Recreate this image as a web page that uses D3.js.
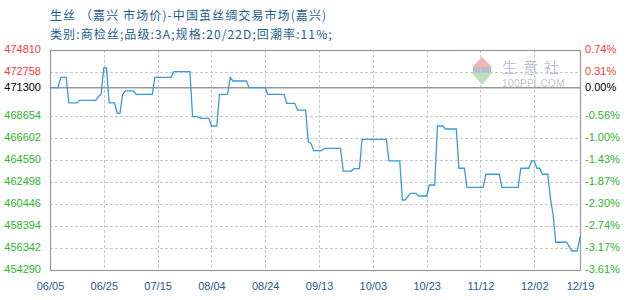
<!DOCTYPE html>
<html><head><meta charset="utf-8">
<script src="https://cdn.jsdelivr.net/npm/d3@7"></script>
<style>
html,body{margin:0;padding:0;background:#fff;}
svg{display:block;}
</style></head>
<body>
<svg id="chart" width="630" height="300"></svg>
<script>
const titleLine1 = "生丝 （嘉兴 市场价)-中国茧丝绸交易市场(嘉兴)";
const titleLine2 = "类别:商检丝;品级:3A;规格:20/22D;回潮率:11%;";
const year = 2023;
const xTickLabels = ["06/05","06/25","07/15","08/04","08/24","09/13","10/03","10/23","11/12","12/02","12/19"];
const yTickValues = [474810,472758,471300,468654,466602,464550,462498,460446,458394,456342,454290];
const pctLabels = ["0.74%","0.31%","0.00%","-0.56%","-1.00%","-1.43%","-1.87%","-2.30%","-2.74%","-3.17%","-3.61%"];
const baseValue = 471300;
const dates = ["06/05","06/08","06/09","06/11","06/12","06/15","06/16","06/22","06/23","06/24","06/25","06/26","06/27","06/29","06/30","07/01","07/02","07/03","07/06","07/07","07/13","07/14","07/20","07/21","07/27","07/28","07/30","07/31","08/03","08/04","08/06","08/07","08/10","08/11","08/12","08/17","08/18","08/24","08/25","08/31","09/01","09/04","09/05","09/08","09/09","09/10","09/11","09/14","09/15","09/21","09/22","09/25","09/26","09/28","09/29","10/08","10/09","10/13","10/14","10/15","10/17","10/19","10/20","10/23","10/24","10/26","10/27","10/29","10/30","11/03","11/04","11/06","11/07","11/13","11/14","11/19","11/20","11/26","11/27","11/30","12/01","12/02","12/03","12/04","12/05","12/07","12/08","12/09","12/10","12/14","12/15","12/16","12/18","12/19"];
const prices = [471300,471300,472260,472260,469870,469870,470120,470120,470470,470680,473130,473130,469870,469870,468906,468906,470680,470990,470990,470680,470680,472260,472260,472790,472790,468590,468590,468440,468440,467720,467720,470680,470680,472260,471920,471920,471300,471300,470680,470680,469840,469840,469210,469210,466260,466100,465420,465420,465640,465640,463520,463520,463740,463740,466480,466480,464460,464460,460820,460820,461440,461440,461190,461190,462220,462220,467720,467720,467440,467440,463780,463780,462000,462000,463220,463220,462000,462000,463780,463780,464460,464460,463780,463780,463220,463220,461000,459420,456880,456880,456470,456060,456060,457400];

const parse = s => { const [m,d] = s.split("/").map(Number); return new Date(year, m-1, d); };
const data = dates.map((d,i)=>({date:parse(d), value:prices[i]}));

const svg = d3.select("#chart");
const L = 50, R = 580, T = 50, B = 270;
const x = d3.scaleTime().domain([parse("06/05"), parse("12/19")]).range([L, R]);
const y = d3.scaleLinear().domain([454290, 474810]).range([B, T]);

const red = "#ff3b3b", green = "#2eb52e", blue = "#1d5d96";
const colorFor = v => v > baseValue ? red : (v < baseValue ? green : "#000");

// titles
svg.append("text").attr("x", 50).attr("y", 20).attr("fill", blue)
  .style("font-family", "'Noto Sans CJK SC'").style("font-size", "12px").style("letter-spacing", "1.1px").text(titleLine1);
svg.append("text").attr("x", 50).attr("y", 39).attr("fill", blue)
  .style("font-family", "'Noto Sans CJK SC'").style("font-size", "12px").style("letter-spacing", "1.1px").text(titleLine2);

// watermark
const wm = svg.append("g").attr("opacity", 0.6);
wm.append("path").attr("d", "M482,57 L492,67 L472,67 Z").attr("fill", "#e88a80");
wm.append("rect").attr("x", 473).attr("y", 67).attr("width", 18).attr("height", 6).attr("fill", "#8a94b0");
wm.append("path").attr("d", "M472,73 L492,73 L482,85 Z").attr("fill", "#8fd08f");
wm.append("text").attr("x", 502).attr("y", 73).attr("fill", "#8f9cc4")
  .style("font-family", "'Noto Sans CJK SC'").style("font-size", "15px").style("letter-spacing", "6px").text("生意社");
wm.append("text").attr("x", 502).attr("y", 87).attr("fill", "#a0a0a0")
  .style("font-family", "'Liberation Sans'").style("font-size", "10px").style("letter-spacing", "0.4px").text("100PPI.COM");

// horizontal gridlines
svg.append("g").selectAll("line").data(yTickValues.filter(v => v !== 474810 && v !== 454290 && v !== baseValue))
  .join("line").attr("x1", L).attr("x2", R).attr("y1", d => y(d)+0.5).attr("y2", d => y(d)+0.5)
  .attr("stroke", "#c8c8c8").attr("stroke-dasharray", "3,2");
// vertical gridlines
const xTicks = xTickLabels.map(parse);
svg.append("g").selectAll("line").data(xTicks.slice(1, -1))
  .join("line").attr("x1", d => Math.round(x(d))+0.5).attr("x2", d => Math.round(x(d))+0.5).attr("y1", T).attr("y2", B)
  .attr("stroke", "#c8c8c8").attr("stroke-dasharray", "3,2");

// frame
svg.append("rect").attr("x", L+0.5).attr("y", T+0.5).attr("width", R-L).attr("height", B-T)
  .attr("fill", "none").attr("stroke", "#9a9a9a").attr("stroke-width", 1.2);
svg.append("line").attr("x1", L).attr("x2", R).attr("y1", y(baseValue)).attr("y2", y(baseValue))
  .attr("stroke", "#999").attr("stroke-width", 1.5);

// line
svg.append("path").datum(data)
  .attr("d", d3.line().x(d => x(d.date)).y(d => y(d.value)))
  .attr("fill", "none").attr("stroke", "#3b9ad9").attr("stroke-width", 1.3);

// left axis labels
const leftAxis = d3.axisLeft(y).tickValues(yTickValues).tickSize(0).tickPadding(9).tickFormat(d3.format("d"));
const gl = svg.append("g").attr("transform", `translate(${L},0)`).call(leftAxis);
gl.select(".domain").remove();
gl.selectAll("text").attr("fill", d => colorFor(d)).attr("dy", "0.25em")
  .style("font-family", "'Liberation Sans'").style("font-size", "11px");

// right axis labels
const rightAxis = d3.axisRight(y).tickValues(yTickValues).tickSize(0).tickPadding(5)
  .tickFormat((d,i) => pctLabels[i]);
const gr = svg.append("g").attr("transform", `translate(${R},0)`).call(rightAxis);
gr.select(".domain").remove();
gr.selectAll("text").attr("fill", d => colorFor(d)).attr("dy", "0.25em")
  .style("font-family", "'Liberation Sans'").style("font-size", "11px");

// bottom axis labels
const bottomAxis = d3.axisBottom(x).tickValues(xTicks).tickSize(0).tickPadding(12)
  .tickFormat((d,i) => xTickLabels[i]);
const gb = svg.append("g").attr("transform", `translate(0,${B})`).call(bottomAxis);
gb.select(".domain").remove();
gb.selectAll("text").attr("fill", blue)
  .style("font-family", "'Liberation Sans'").style("font-size", "11px");
</script>
</body></html>
